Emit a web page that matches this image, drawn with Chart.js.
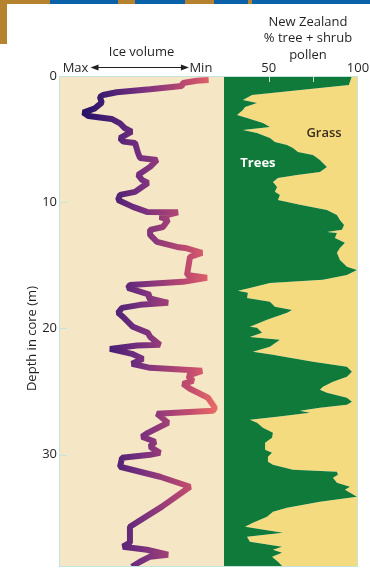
<!DOCTYPE html>
<html>
<head>
<meta charset="utf-8">
<title>Ice volume and New Zealand pollen</title>
<script src="https://cdn.jsdelivr.net/npm/chart.js@4.4.1/dist/chart.umd.min.js"></script>
<style>
  html, body { margin: 0; padding: 0; background: #fff; }
  #wrap { position: relative; width: 370px; height: 569px; }
  #chart { position: absolute; left: 0; top: 0; }
  #band { position: absolute; left: 0; top: 0; width: 370px; height: 4px; z-index: 2;
    background: linear-gradient(to right, #b5822f 0 50px, #0b62a8 50px 118px, #b5822f 118px 135px,
      #0b62a8 135px 185px, #b5822f 185px 214px, #0b62a8 214px 248px, #b5822f 248px 252px, #0b62a8 252px); }
  #side { position: absolute; left: 0; top: 0; width: 7px; height: 44px; background: #b5822f; z-index: 2; }
</style>
</head>
<body>
<div id="wrap">
  <canvas id="chart" width="370" height="569"></canvas>
  <div id="band"></div>
  <div id="side"></div>
</div>
<script>
// depth axis (m)
const depthTicks = [0, 10, 20, 30];

// ice volume curve: depth (m) and relative ice volume (100 = max, 0 = min)
const iceDepth = [0.32, 0.37, 0.55, 0.79, 1.05, 1.29, 1.50, 1.66, 2.11, 2.56, 2.90, 3.17, 3.40, 3.75, 4.14,
  4.41, 4.93, 5.20, 5.30, 6.10, 6.49, 6.65, 7.20, 7.84, 8.23, 8.47, 8.79, 9.18, 9.42, 9.82, 10.37, 10.77,
  10.80, 11.16, 11.40, 11.96, 12.19, 12.59, 13.14, 13.54, 13.62, 14.01, 14.33, 15.76, 15.99, 16.31, 16.55,
  16.79, 17.34, 17.58, 17.97, 18.13, 18.37, 18.76, 19.08, 19.87, 20.35, 20.67, 21.30, 21.35, 21.62, 22.01,
  22.41, 22.80, 23.12, 23.36, 23.75, 24.15, 24.39, 24.78, 25.49, 26.29, 26.52, 26.76, 27.47, 27.79, 28.27,
  28.58, 28.98, 29.37, 29.85, 30.01, 30.25, 30.96, 31.75, 32.54, 34.12, 35.71, 36.97, 37.29, 37.53, 37.93,
  38.08, 38.48, 38.88];
const iceVolume = [9.3, 16.5, 24.8, 25.6, 44.8, 65.0, 73.3, 75.2, 74.1, 78.2, 85.3, 82.2, 68.1, 63.0, 60.0,
  56.0, 63.0, 61.0, 53.9, 52.1, 50.9, 40.6, 44.8, 52.1, 49.7, 46.1, 49.7, 53.9, 63.0, 64.2, 55.2, 46.7,
  27.9, 38.8, 33.9, 37.0, 44.8, 44.8, 40.6, 28.5, 23.6, 13.3, 20.6, 22.4, 10.3, 24.8, 57.0,
  58.2, 44.8, 46.1, 33.9, 50.9, 61.8, 64.2, 61.2, 55.2, 46.1, 44.8, 38.8, 52.7, 69.1, 55.8,
  49.1, 55.8, 44.8, 13.3, 21.8, 18.8, 24.8, 20.6, 9.7, 5.5, 6.7, 40.6, 33.9, 38.8, 46.1,
  49.7, 41.8, 44.8, 38.8, 44.8, 61.8, 63.0, 38.8, 20.6, 37.6, 57.0, 57.0, 61.2, 46.7, 33.9,
  44.8, 50.9, 55.8];

// New Zealand pollen: depth (m) and % tree + shrub pollen (rest is grass)
const pollenDepth = [0.0, 0.71, 1.50, 1.90, 2.14, 2.45, 2.69, 3.09, 3.33, 3.72, 4.04, 4.28, 4.51, 4.91, 5.23,
  5.46, 5.70, 6.02, 6.25, 6.65, 7.21, 7.60, 7.84, 8.08, 8.39, 8.79, 9.18, 9.42, 9.82, 10.21, 10.61, 11.01,
  11.40, 11.80, 12.19, 12.35, 12.43, 12.83, 13.22, 13.62, 14.01, 14.57, 15.12, 15.36, 15.76, 16.15, 16.39,
  16.79, 17.02, 17.18, 17.58, 17.89, 18.29, 18.53, 18.76, 19.32, 19.87, 19.95, 20.35, 20.67, 20.90, 21.46,
  21.85, 22.09, 22.33, 22.64, 23.04, 23.44, 23.83, 24.23, 24.62, 24.86, 25.10, 25.49, 25.81, 26.05, 26.29,
  26.52, 26.68, 27.00, 27.24, 27.47, 27.87, 28.27, 28.66, 29.06, 29.61, 29.85, 30.17, 30.56, 30.80, 31.20,
  31.35, 31.59, 31.83, 32.22, 32.54, 32.78, 33.33, 33.73, 34.20, 34.52, 34.92, 35.39, 35.71, 36.18, 36.50,
  36.90, 37.29, 37.53, 37.77, 38.08, 38.48, 38.88];
const treePollen = [96.6, 94.9, 40.7, 35.6, 43.5, 36.8, 35.6, 32.3, 37.9, 46.8, 50.7, 35.6, 43.5, 50.7, 53.5,
  60.3, 63.6, 66.4, 74.8, 78.7, 82.6, 78.7, 65.9, 55.2, 52.4, 54.7, 53.5, 56.3, 55.2, 67.5, 82.6, 88.2,
  89.9, 92.2, 91.0, 82.6, 88.2, 87.1, 92.7, 89.9, 88.2, 89.9, 93.8, 99.4, 93.8, 80.4, 50.7,
  39.5, 32.8, 38.4, 37.9, 50.7, 53.5, 63.1, 60.3, 49.1, 39.5, 43.5, 46.3, 39.5, 56.3, 50.7,
  41.2, 52.4, 61.9, 74.8, 93.8, 96.6, 93.8, 86.0, 80.4, 78.7, 82.6, 93.8, 96.6, 93.8, 78.7,
  67.5, 73.1, 54.7, 39.5, 43.5, 46.8, 52.4, 51.9, 48.0, 48.0, 51.9, 49.6, 49.6, 52.4, 63.6,
  88.2, 88.8, 86.0, 88.2, 95.5, 92.7, 99.4, 78.7, 60.3, 52.4, 49.1, 41.2, 36.8, 58.0, 37.9,
  39.5, 57.5, 52.4, 57.5, 51.9, 55.2, 58.0];

// axis tick labels
const iceTickValues = [90, 14];
const iceTickText = ['Max', 'Min'];
const pollenTickValues = [50, 75, 100];
const pollenTickText = ['50', '', '100'];

const FONT = "'Open Sans', 'DejaVu Sans', sans-serif";
Chart.defaults.font.family = FONT;
Chart.defaults.font.size = 13;
Chart.defaults.color = '#231f20';

const icePoints = iceDepth.map((d, i) => ({ x: iceVolume[i], y: d }));
const treePoints = pollenDepth.map((d, i) => ({ x: treePollen[i], y: d }));

// colour of the ice curve follows its horizontal position
function iceGradient(context) {
  const chart = context.chart;
  const s = chart.scales.xIce;
  if (!s || !chart.chartArea) return '#6a2a80';
  const g = chart.ctx.createLinearGradient(s.left, 0, s.right, 0);
  g.addColorStop(0, '#1a0b55');
  g.addColorStop(0.2, '#2f166c');
  g.addColorStop(0.5, '#77307f');
  g.addColorStop(0.8, '#c44d6e');
  g.addColorStop(1, '#f47463');
  return g;
}

// keep the panels flush with the layout padding (no room kept for end labels)
function noEndPadding(s) {
  s.paddingTop = 0;
  s.paddingBottom = 0;
  s.paddingLeft = 0;
  s.paddingRight = 0;
}

const panels = {
  id: 'panels',
  beforeDatasetsDraw(chart) {
    const { ctx, chartArea: a, scales } = chart;
    const ice = scales.xIce;
    ctx.save();
    ctx.fillStyle = '#f5e6c6';
    ctx.fillRect(ice.left, a.top, ice.right - ice.left, a.bottom - a.top);
    ctx.restore();
  },
  afterDatasetsDraw(chart) {
    const { ctx, chartArea: a, scales } = chart;
    const pol = scales.xPollen, y = scales.y;
    ctx.save();
    // panel frame
    ctx.strokeStyle = '#c3e4de';
    ctx.lineWidth = 1;
    ctx.strokeRect(a.left + 0.5, a.top + 0.5, a.right - a.left - 1, a.bottom - a.top - 1);
    // inward tick marks
    ctx.beginPath();
    y.ticks.forEach(t => {
      const py = Math.round(y.getPixelForValue(t.value)) + 0.5;
      ctx.moveTo(a.left, py);
      ctx.lineTo(a.left + 8, py);
    });
    pol.ticks.forEach(t => {
      if (t.value >= pol.max) return;
      const px = Math.round(pol.getPixelForValue(t.value)) + 0.5;
      ctx.moveTo(px, a.top);
      ctx.lineTo(px, a.top + 6);
    });
    ctx.stroke();

    // region labels
    ctx.textAlign = 'center';
    ctx.textBaseline = 'middle';
    ctx.font = 'bold 13px ' + FONT;
    ctx.fillStyle = '#ffffff';
    ctx.fillText('Trees', pol.getPixelForValue(44), y.getPixelForValue(6.9));
    ctx.font = '600 13px ' + FONT;
    ctx.fillStyle = '#3a2e1e';
    ctx.fillText('Grass', pol.getPixelForValue(81), y.getPixelForValue(4.5));
    ctx.restore();
  },
  afterDraw(chart) {
    const { ctx, chartArea: a, scales } = chart;
    const ice = scales.xIce, pol = scales.xPollen, y = scales.y;
    ctx.save();
    ctx.fillStyle = '#231f20';
    ctx.strokeStyle = '#231f20';
    ctx.font = '13px ' + FONT;
    ctx.textAlign = 'center';
    ctx.textBaseline = 'middle';
    // pollen header
    const hx = pol.getPixelForValue(72);
    ctx.fillText('New Zealand', hx, a.top - 54);
    ctx.fillText('% tree + shrub', hx, a.top - 38);
    ctx.fillText('pollen', hx, a.top - 21);

    // double arrow between Max and Min
    const ay = a.top - 8.5;
    const x0 = ice.getPixelForValue(iceTickValues[0]) + 15;
    const x1 = ice.getPixelForValue(iceTickValues[1]) - 12;
    ctx.lineWidth = 1.2;
    ctx.beginPath();
    ctx.moveTo(x0 + 4, ay);
    ctx.lineTo(x1 - 4, ay);
    ctx.stroke();
    ctx.beginPath();
    ctx.moveTo(x0, ay); ctx.lineTo(x0 + 8, ay - 3); ctx.lineTo(x0 + 8, ay + 3); ctx.closePath();
    ctx.moveTo(x1, ay); ctx.lineTo(x1 - 8, ay - 3); ctx.lineTo(x1 - 8, ay + 3); ctx.closePath();
    ctx.fill();

    // depth axis title
    ctx.translate(32, y.getPixelForValue(20.8));
    ctx.rotate(-Math.PI / 2);
    ctx.fillText('Depth in core (m)', 0, 0);
    ctx.restore();
  }
};

new Chart(document.getElementById('chart'), {
  type: 'line',
  data: {
    datasets: [
      {
        label: 'Ice volume',
        data: icePoints,
        xAxisID: 'xIce',
        yAxisID: 'y',
        borderColor: iceGradient,
        borderWidth: 6,
        borderJoinStyle: 'bevel',
        pointRadius: 0,
        tension: 0,
        fill: false
      },
      {
        label: 'Trees',
        data: treePoints,
        xAxisID: 'xPollen',
        yAxisID: 'y',
        borderWidth: 0,
        pointRadius: 0,
        tension: 0,
        backgroundColor: '#107a3b',
        fill: { value: 25 }
      },
      {
        label: 'Grass',
        data: treePoints,
        xAxisID: 'xPollen',
        yAxisID: 'y',
        borderWidth: 0,
        pointRadius: 0,
        tension: 0,
        backgroundColor: '#f5db80',
        fill: { value: 100 }
      }
    ]
  },
  options: {
    indexAxis: 'y',
    responsive: false,
    animation: false,
    layout: { autoPadding: false, padding: { top: 40, bottom: 2, left: 0, right: 12 } },
    plugins: {
      legend: { display: false },
      tooltip: { enabled: false }
    },
    scales: {
      xIce: {
        type: 'linear',
        position: 'top',
        stack: 'panels',
        stackWeight: 165,
        weight: 2,
        reverse: true,
        min: 0,
        max: 100,
        grid: { display: false, drawTicks: false },
        border: { display: false },
        afterBuildTicks: s => { s.ticks = iceTickValues.map(v => ({ value: v })); },
        ticks: { autoSkip: false, maxRotation: 0, padding: 0, callback: (v, i) => iceTickText[i] },
        title: { display: true, text: 'Ice volume', padding: { top: 4, bottom: 0 } },
        afterFit: s => { s.height = 36; noEndPadding(s); }
      },
      xPollen: {
        type: 'linear',
        position: 'top',
        stack: 'panels',
        stackWeight: 134,
        weight: 1,
        min: 25,
        max: 100,
        grid: { display: false, drawTicks: false },
        border: { display: false },
        afterBuildTicks: s => { s.ticks = pollenTickValues.map(v => ({ value: v })); },
        ticks: { autoSkip: false, maxRotation: 0, padding: 0, callback: (v, i) => pollenTickText[i] },
        afterFit: s => { s.height = 36; noEndPadding(s); }
      },
      y: {
        type: 'linear',
        position: 'left',
        reverse: true,
        min: 0,
        max: 38.9,
        grid: { display: false, drawTicks: false },
        border: { display: false },
        afterBuildTicks: s => { s.ticks = depthTicks.map(v => ({ value: v })); },
        ticks: { padding: 2 },
        afterFit: s => { s.width = 59; noEndPadding(s); }
      }
    }
  },
  plugins: [panels]
});
</script>
</body>
</html>
